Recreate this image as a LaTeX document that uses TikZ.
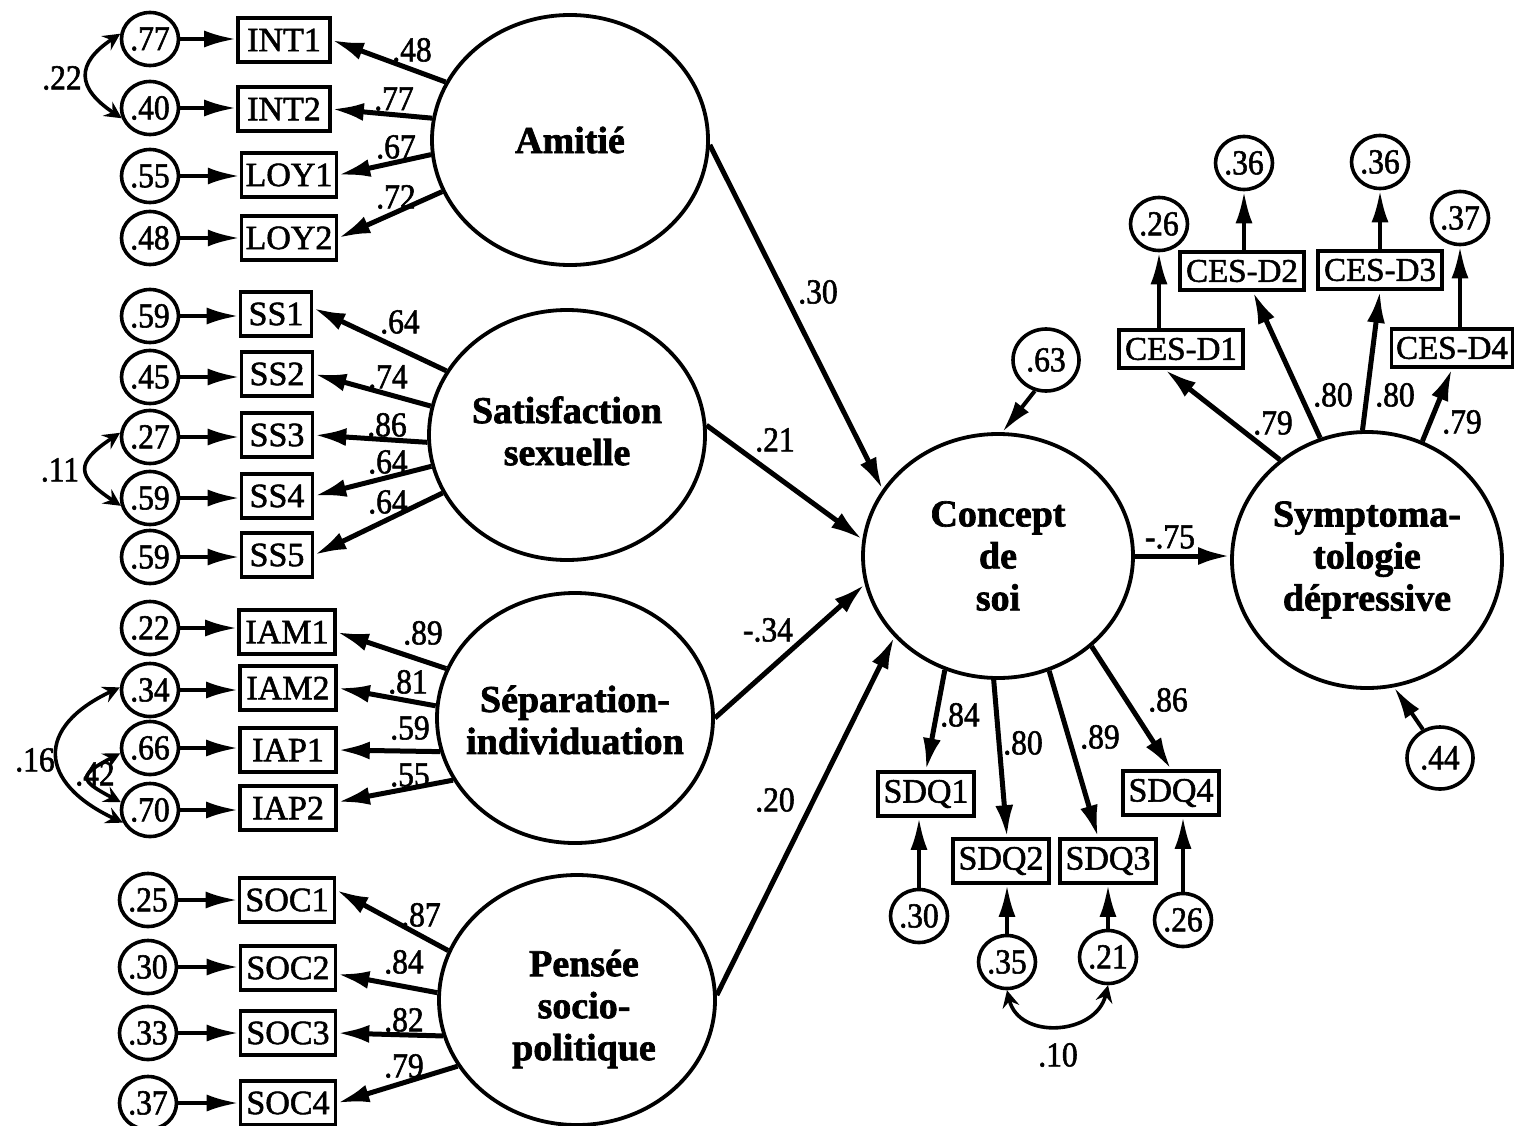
\documentclass[tikz,border=0pt]{standalone}
\usepackage{fontspec}
\setmainfont{Liberation Serif}
\newfontfamily\coeffamily[FakeStretch=0.9,FakeBold=1.6]{Liberation Serif}
\newfontfamily\boxfamily[FakeBold=1.6]{Liberation Serif}
\newfontfamily\latfamily[FakeBold=1.8]{Liberation Serif Bold}
\usetikzlibrary{arrows.meta,shapes.geometric,calc}

\begin{document}
\begin{tikzpicture}[x=1pt,y=-1pt,
  lat/.style={draw, ellipse, line width=3.8pt, minimum width=276pt, minimum height=250pt, inner sep=0pt},
  lattext/.style={align=center, inner sep=0pt, font=\latfamily\fontsize{38}{42}\selectfont},
  err/.style={draw, ellipse, line width=3.6pt, minimum width=57pt, minimum height=53pt, inner sep=0pt, font=\coeffamily\fontsize{35}{38}\selectfont},
  dist/.style={err, minimum width=66pt, minimum height=62pt},
  obs/.style={draw, rectangle, line width=3.6pt, minimum height=44pt, inner xsep=4pt, inner ysep=0pt, font=\boxfamily\fontsize{34}{38}\selectfont},
  ces/.style={obs, minimum height=38pt, minimum width=124pt, font=\boxfamily\fontsize{33}{36}\selectfont},
  coef/.style={font=\coeffamily\fontsize{35}{38}\selectfont, inner sep=0pt},
  load/.style={-{Latex[length=32pt,width=18pt]}, line width=5pt},
  resid/.style={-{Latex[length=32pt,width=17pt]}, line width=4pt},
  corr/.style={{Stealth[length=17pt,width=17pt,inset=6pt]}-{Stealth[length=17pt,width=17pt,inset=6pt]}, line width=3.6pt},
]
\useasboundingbox (0,0) rectangle (1514,1126);

% ---------- latent variables ----------
\node[lat, label={[lattext]center:Amitié}] (amitie) at (570,140) {};
\node[lat, label={[lattext, yshift=4pt]center:Satisfaction\\sexuelle}] (satis) at (567,435) {};
\node[lat, label={[lattext, yshift=-2pt]center:Séparation-\\individuation}] (separ) at (575,718) {};
\node[lat, label={[lattext, xshift=7pt, yshift=-9pt]center:Pensée\\socio-\\politique}] (pensee) at (577,1000) {};
\node[lat, minimum width=270pt, minimum height=244pt, label={[lattext]center:Concept\\de\\soi}] (concept) at (998,556) {};
\node[lat, minimum width=270pt, minimum height=256pt, label={[lattext]center:Symptoma-\\tologie\\dépressive}] (sympt) at (1367,560) {};

% ---------- Amitié indicators ----------
\node[err] (e1) at (150,39) {.77};
\node[err] (e2) at (150,108) {.40};
\node[err] (e3) at (150,176) {.55};
\node[err] (e4) at (150,238) {.48};
\node[obs, minimum width=92pt] (int1) at (284,40) {INT1};
\node[obs, minimum width=92pt] (int2) at (284,109) {INT2};
\node[obs, minimum width=92pt] (loy1) at (289,175) {LOY1};
\node[obs, minimum width=92pt] (loy2) at (289,238) {LOY2};

% ---------- Satisfaction sexuelle indicators ----------
\node[err] (e5) at (150,316) {.59};
\node[err] (e6) at (150,377) {.45};
\node[err] (e7) at (150,437) {.27};
\node[err] (e8) at (150,498) {.59};
\node[err] (e9) at (150,557) {.59};
\node[obs, minimum width=71pt] (ss1) at (276,314) {SS1};
\node[obs, minimum width=71pt] (ss2) at (277,374) {SS2};
\node[obs, minimum width=71pt] (ss3) at (277,435) {SS3};
\node[obs, minimum width=71pt] (ss4) at (277,496) {SS4};
\node[obs, minimum width=71pt] (ss5) at (277,555) {SS5};

% ---------- Séparation-individuation indicators ----------
\node[err] (e10) at (150,628) {.22};
\node[err] (e11) at (150,690) {.34};
\node[err] (e12) at (150,748) {.66};
\node[err] (e13) at (150,810) {.70};
\node[obs, minimum width=96pt] (iam1) at (287,632) {IAM1};
\node[obs, minimum width=96pt] (iam2) at (288,688) {IAM2};
\node[obs, minimum width=96pt] (iap1) at (288,750) {IAP1};
\node[obs, minimum width=96pt] (iap2) at (288,808) {IAP2};

% ---------- Pensée socio-politique indicators ----------
\node[err] (e14) at (148,900) {.25};
\node[err] (e15) at (148,967) {.30};
\node[err] (e16) at (148,1033) {.33};
\node[err] (e17) at (148,1103) {.37};
\node[obs, minimum width=95pt] (soc1) at (287,900) {SOC1};
\node[obs, minimum width=95pt] (soc2) at (288,968) {SOC2};
\node[obs, minimum width=95pt] (soc3) at (288,1033) {SOC3};
\node[obs, minimum width=95pt] (soc4) at (288,1103) {SOC4};

% ---------- Concept de soi indicators ----------
\node[obs, minimum width=96pt] (sdq1) at (926,794) {SDQ1};
\node[obs, minimum width=96pt] (sdq2) at (1001,861) {SDQ2};
\node[obs, minimum width=96pt] (sdq3) at (1108,861) {SDQ3};
\node[obs, minimum width=96pt] (sdq4) at (1171,793) {SDQ4};
\node[err] (e30) at (919,916) {.30};
\node[err] (e35) at (1007,962) {.35};
\node[err] (e21) at (1108,957) {.21};
\node[err] (e26) at (1183,920) {.26};

% ---------- Symptomatologie indicators ----------
\node[ces] (cesd1) at (1181,349) {CES-D1};
\node[ces] (cesd2) at (1242,271) {CES-D2};
\node[ces] (cesd3) at (1380,270) {CES-D3};
\node[ces, minimum width=121pt] (cesd4) at (1452,348) {CES-D4};
\node[err] (c26) at (1159,224) {.26};
\node[err] (c36a) at (1244,163) {.36};
\node[err] (c36b) at (1380,162) {.36};
\node[err] (c37) at (1460,218) {.37};

% ---------- disturbances ----------
\node[dist] (d63) at (1046,360) {.63};
\node[dist] (d44) at (1440,758) {.44};

% ---------- residual arrows, left block ----------
\foreach \e/\b in {e1/int1,e2/int2,e3/loy1,e4/loy2,e5/ss1,e6/ss2,e7/ss3,e8/ss4,e9/ss5,
                   e10/iam1,e11/iam2,e12/iap1,e13/iap2,e14/soc1,e15/soc2,e16/soc3,e17/soc4}
  \draw[resid] (\e.east) -- (\e.east -| \b.west);

% ---------- loadings, left block ----------
\draw[load] (amitie.155) -- (int1.east);
\draw[load] (amitie.171) -- (int2.east);
\draw[load] (amitie.186) -- (loy1.east);
\draw[load] (amitie.202) -- (loy2.east);
\draw[load] (satis.152) -- ([yshift=6pt]ss1.east);
\draw[load] (satis.168) -- (ss2.east);
\draw[load] (satis.183) -- (ss3.east);
\draw[load] (satis.193) -- (ss4.east);
\draw[load] (satis.205) -- (ss5.east);
\draw[load] (separ.159) -- (iam1.east);
\draw[load] (separ.175) -- (iam2.east);
\draw[load] (separ.194) -- (iap1.east);
\draw[load] (separ.207) -- ([yshift=6pt]iap2.east);
\draw[load] (pensee.159) -- ([yshift=10pt]soc1.east);
\draw[load] (pensee.177) -- ([yshift=-6pt]soc2.east);
\draw[load] (pensee.195) -- (soc3.east);
\draw[load] (pensee.209) -- (soc4.east);

\node[coef] (k1) at (412,50) {.48};
\node[coef] (k2) at (394,99) {.77};
\node[coef] (k3) at (396,147) {.67};
\node[coef] (k4) at (396,197) {.72};
\node[coef] (k5) at (400,322) {.64};
\node[coef] (k6) at (388,377) {.74};
\node[coef] (k7) at (387,425) {.86};
\node[coef] (k8) at (388,462) {.64};
\node[coef] (k9) at (388,502) {.64};
\node[coef] (k10) at (423,633) {.89};
\node[coef] (k11) at (408,682) {.81};
\node[coef] (k12) at (410,728) {.59};
\node[coef] (k13) at (410,775) {.55};
\node[coef] (k14) at (421,915) {.87};
\node[coef] (k15) at (404,962) {.84};
\node[coef] (k16) at (404,1020) {.82};
\node[coef] (k17) at (404,1066) {.79};

% ---------- correlated residuals ----------
\draw[corr] (e1.170) .. controls +(-45,30) and +(-45,-30) .. (e2.200);
\node[coef] (r1) at (62,78) {.22};
\draw[corr] (e7.172) .. controls +(-45,30) and +(-45,-30) .. (e8.195);
\node[coef] (r2) at (60,470) {.11};
\draw[corr] (e11.175) .. controls +(-85,40) and +(-85,-40) .. (e13.205);
\node[coef] (r3) at (35,760) {.16};
\draw[corr] (e12.190) .. controls +(-42,22) and +(-42,-22) .. (e13.165);
\node[coef] (r4) at (95,774) {.42};
\draw[corr] (e35.south) .. controls +(12,50) and +(-12,50) .. (e21.south);
\node[coef] (r5) at (1058,1055) {.10};

% ---------- structural paths ----------
\draw[load] (amitie.-2) -- (concept.150);
\draw[load] (satis.4) -- (concept.173);
\draw[load] (separ.0) -- (concept.192);
\draw[load] (pensee.2) -- (concept.218);
\draw[load] (concept.east) -- (concept.east -| sympt.west);
\node[coef] (s1) at (818,292) {.30};
\node[coef] (s2) at (775,440) {.21};
\node[coef] (s3) at (768,630) {-.34};
\node[coef] (s4) at (775,800) {.20};
\node[coef] (s5) at (1170,537) {-.75};

% ---------- Concept de soi measurement ----------
\draw[load] (concept.245) -- (sdq1.north);
\draw[load] (concept.268) -- ([xshift=6pt]sdq2.north);
\draw[load] (concept.294) -- ([xshift=-10pt]sdq3.north);
\draw[load] (concept.316) -- (sdq4.north);
\foreach \e/\b in {e30/sdq1,e35/sdq2,e21/sdq3,e26/sdq4}
  \draw[resid] (\e.north) -- (\e.north |- \b.south);
\node[coef] (m1) at (960,715) {.84};
\node[coef] (m2) at (1023,743) {.80};
\node[coef] (m3) at (1100,737) {.89};
\node[coef] (m4) at (1168,700) {.86};

% ---------- Symptomatologie measurement ----------
\draw[load] (sympt.131) -- ([xshift=-16pt]cesd1.south);
\draw[load] (sympt.111) -- ([xshift=11pt]cesd2.south);
\draw[load] (sympt.92) -- (cesd3.south);
\draw[load] (sympt.65) -- (cesd4.south);
\foreach \c/\b in {c26/cesd1,c36a/cesd2,c36b/cesd3,c37/cesd4}
  \draw[resid] (\c.south |- \b.north) -- (\c.south);
\node[coef] (n1) at (1273,423) {.79};
\node[coef] (n2) at (1333,395) {.80};
\node[coef] (n3) at (1395,395) {.80};
\node[coef] (n4) at (1462,422) {.79};

% ---------- disturbance arrows ----------
\draw[resid] (d63.250) -- (concept.88);
\draw[resid] (d44.121) -- (sympt.282);

\end{tikzpicture}
\end{document}
